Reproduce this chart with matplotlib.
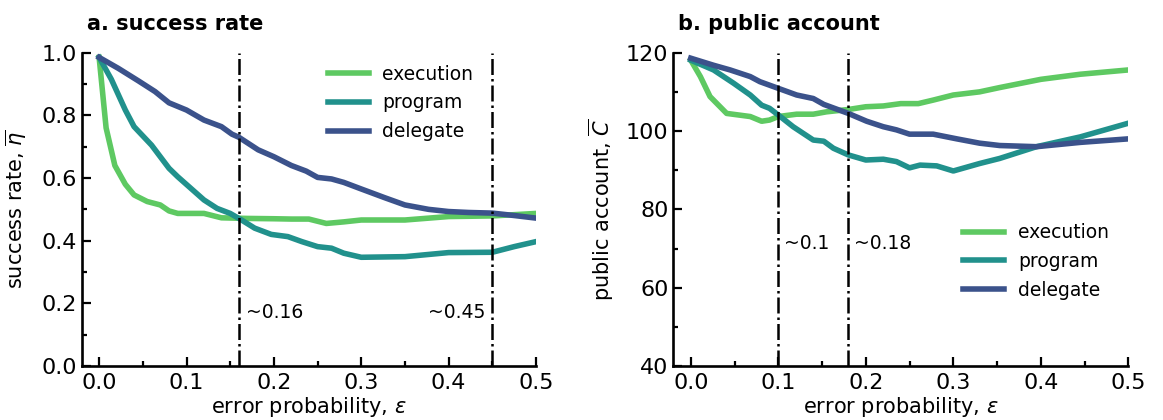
import matplotlib
matplotlib.use("Agg")
import matplotlib.pyplot as plt
from matplotlib.ticker import MultipleLocator

# panel a: success rate vs error probability
exec_eps = [0, 0.008, 0.018, 0.03, 0.04, 0.055, 0.07, 0.08, 0.09, 0.1, 0.12, 0.14,
            0.17, 0.2, 0.22, 0.24, 0.26, 0.28, 0.3, 0.35, 0.4, 0.45, 0.5]
exec_eta = [0.985, 0.76, 0.64, 0.58, 0.546, 0.525, 0.514, 0.495, 0.487, 0.487, 0.487, 0.473,
            0.471, 0.47, 0.469, 0.469, 0.455, 0.46, 0.466, 0.466, 0.477, 0.479, 0.487]

prog_eps = [0, 0.014, 0.03, 0.04, 0.06, 0.08, 0.09, 0.105, 0.12, 0.135, 0.15, 0.163, 0.178,
            0.197, 0.216, 0.232, 0.25, 0.266, 0.28, 0.3, 0.35, 0.4, 0.45, 0.475, 0.5]
prog_eta = [0.985, 0.915, 0.817, 0.764, 0.705, 0.631, 0.604, 0.567, 0.53, 0.503, 0.487, 0.466, 0.44,
            0.42, 0.413, 0.397, 0.381, 0.376, 0.36, 0.347, 0.349, 0.362, 0.363, 0.381, 0.397]

del_eps = [0, 0.022, 0.045, 0.064, 0.08, 0.1, 0.12, 0.14, 0.152, 0.16, 0.182, 0.2, 0.22,
           0.237, 0.25, 0.266, 0.28, 0.3, 0.327, 0.35, 0.377, 0.4, 0.423, 0.45, 0.476, 0.5]
del_eta = [0.985, 0.95, 0.91, 0.876, 0.84, 0.817, 0.785, 0.764, 0.74, 0.73, 0.69, 0.668, 0.64,
           0.622, 0.602, 0.597, 0.586, 0.565, 0.537, 0.514, 0.5, 0.493, 0.49, 0.488, 0.48, 0.472]

# panel b: public account vs error probability
exec_eps_b = [0, 0.011, 0.022, 0.041, 0.068, 0.081, 0.09, 0.1, 0.121, 0.14, 0.155, 0.18,
              0.2, 0.22, 0.24, 0.26, 0.277, 0.3, 0.33, 0.353, 0.4, 0.445, 0.5]
exec_C = [118.1, 113.9, 108.8, 104.5, 103.7, 102.5, 102.8, 103.7, 104.3, 104.3, 104.9, 105.5,
          106.2, 106.4, 107.0, 107.0, 107.9, 109.2, 110.0, 111.1, 113.2, 114.5, 115.6]

prog_eps_b = [0, 0.026, 0.049, 0.068, 0.081, 0.09, 0.1, 0.117, 0.14, 0.152, 0.163, 0.18,
              0.2, 0.22, 0.235, 0.25, 0.262, 0.281, 0.3, 0.33, 0.353, 0.395, 0.445, 0.5]
prog_C = [118.1, 115.6, 112.2, 109.2, 106.6, 105.8, 104.1, 101.1, 97.7, 97.4, 95.6, 93.9,
          92.6, 92.8, 92.2, 90.6, 91.3, 91.1, 89.8, 91.7, 93.0, 96.0, 98.5, 102.0]

del_eps_b = [0, 0.026, 0.045, 0.068, 0.079, 0.1, 0.121, 0.14, 0.152, 0.18, 0.201, 0.22,
             0.235, 0.25, 0.277, 0.304, 0.33, 0.353, 0.395, 0.445, 0.5]
del_C = [118.6, 116.8, 115.6, 113.9, 112.6, 110.9, 109.2, 108.3, 106.8, 104.5, 102.5, 101.1,
         100.3, 99.2, 99.2, 98.0, 96.9, 96.3, 96.0, 97.1, 98.0]

vlines_a = [0.16, 0.45]
vlines_b = [0.1, 0.18]

c_exec = "#5ec962"
c_prog = "#21918c"
c_del = "#3b528b"

fig = plt.figure(figsize=(11.63, 4.2), dpi=100)
ax1 = fig.add_axes([0.0702, 0.1286, 0.3907, 0.7459])
ax2 = fig.add_axes([0.5789, 0.1286, 0.3913, 0.7459])


def style_axes(ax):
    for side in ["top", "right"]:
        ax.spines[side].set_visible(False)
    for side in ["left", "bottom"]:
        ax.spines[side].set_linewidth(1.9)
    ax.tick_params(which="both", direction="in", width=1.6, labelsize=16)
    ax.tick_params(which="major", length=6.5)
    ax.tick_params(which="minor", length=3.5)
    ax.tick_params(axis="x", pad=5)
    ax.set_xlim(-0.02, 0.5)
    ax.xaxis.set_major_locator(MultipleLocator(0.1))
    ax.xaxis.set_minor_locator(MultipleLocator(0.05))
    ax.set_xlabel(r"error probability, $\varepsilon$", fontsize=15)
    ax.xaxis.set_label_coords(0.5, -0.094)


# a. success rate
ax1.plot(exec_eps, exec_eta, color=c_exec, lw=4, label="execution")
ax1.plot(prog_eps, prog_eta, color=c_prog, lw=4, label="program")
ax1.plot(del_eps, del_eta, color=c_del, lw=4, label="delegate")
for v in vlines_a:
    ax1.axvline(v, color="black", ls="-.", lw=1.8)
style_axes(ax1)
ax1.set_ylim(0, 1.0)
ax1.yaxis.set_major_locator(MultipleLocator(0.2))
ax1.yaxis.set_minor_locator(MultipleLocator(0.1))
ax1.set_ylabel(r"success rate, $\overline{\eta}$", fontsize=15)
ax1.yaxis.set_label_coords(-0.115, 0.5)
ax1.text(0.168, 0.17, "~0.16", fontsize=13.5, ha="left", va="center")
ax1.text(0.442, 0.17, "~0.45", fontsize=13.5, ha="right", va="center")
ax1.text(0.012, 1.072, "a. success rate", transform=ax1.transAxes,
         fontsize=15, fontweight="bold", ha="left", va="baseline")
ax1.legend(loc="upper left", bbox_to_anchor=(0.542, 0.962), frameon=False,
           fontsize=13.5, handlelength=2.2, handletextpad=0.7, labelspacing=0.52,
           borderpad=0, borderaxespad=0)

# b. public account
ax2.plot(exec_eps_b, exec_C, color=c_exec, lw=4, label="execution")
ax2.plot(prog_eps_b, prog_C, color=c_prog, lw=4, label="program")
ax2.plot(del_eps_b, del_C, color=c_del, lw=4, label="delegate")
for v in vlines_b:
    ax2.axvline(v, color="black", ls="-.", lw=1.8)
style_axes(ax2)
ax2.set_ylim(40, 120)
ax2.yaxis.set_major_locator(MultipleLocator(20))
ax2.yaxis.set_minor_locator(MultipleLocator(10))
ax2.set_ylabel(r"public account, $\overline{C}$", fontsize=15)
ax2.yaxis.set_label_coords(-0.125, 0.5)
ax2.text(0.1066, 71.4, "~0.1", fontsize=13.5, ha="left", va="center")
ax2.text(0.1864, 71.4, "~0.18", fontsize=13.5, ha="left", va="center")
ax2.text(0.01, 1.072, "b. public account", transform=ax2.transAxes,
         fontsize=15, fontweight="bold", ha="left", va="baseline")
ax2.legend(loc="upper left", bbox_to_anchor=(0.637, 0.456), frameon=False,
           fontsize=13.5, handlelength=2.2, handletextpad=0.75, labelspacing=0.52,
           borderpad=0, borderaxespad=0)

fig.savefig("out.png", dpi=100)
